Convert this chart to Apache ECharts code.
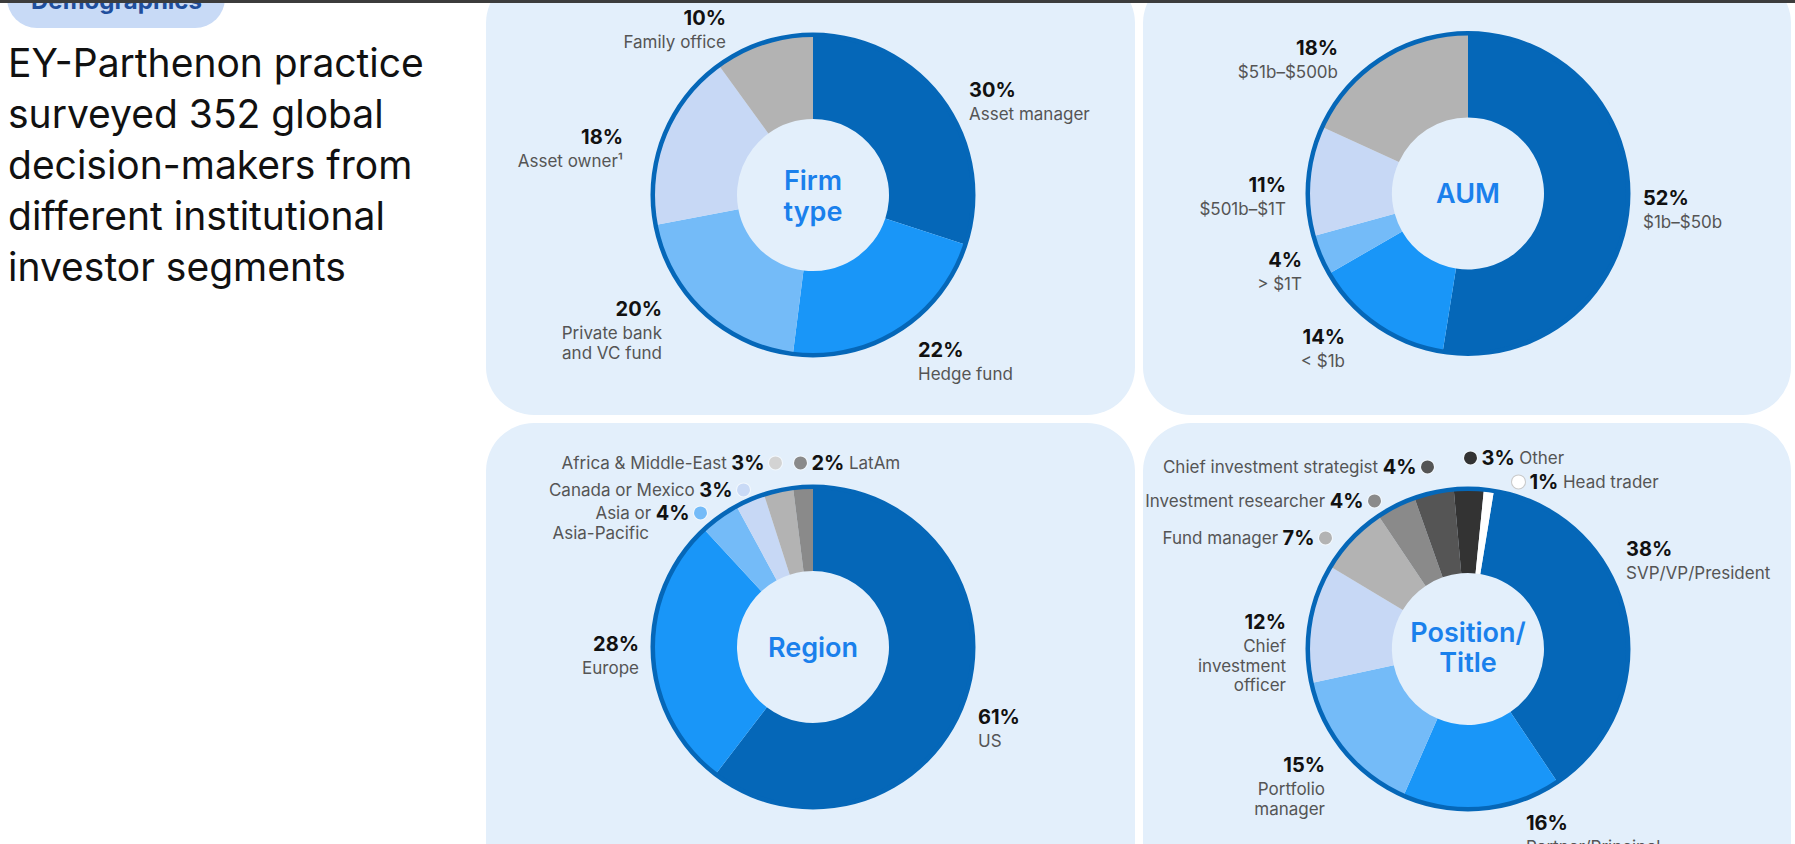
<!DOCTYPE html>
<html><head><meta charset="utf-8">
<script src="https://cdn.jsdelivr.net/npm/echarts@6/dist/echarts.min.js"></script>
<style>html,body{margin:0;padding:0;background:#fff;overflow:hidden;}#c{width:1795px;height:844px;}</style>
</head><body><div id="c"></div>
<script>
// ---------- DATA ----------
const firmCategories = ['Asset manager', 'Hedge fund', 'Private bank\nand VC fund', 'Asset owner¹', 'Family office'];
const firmValues = [30, 22, 20, 18, 10];

const aumCategories = ['$1b–$50b', '< $1b', '> $1T', '$501b–$1T', '$51b–$500b'];
const aumValues = [52, 14, 4, 11, 18];

const regionCategories = ['US', 'Europe', 'Asia or\nAsia-Pacific', 'Canada or Mexico', 'Africa & Middle-East', 'LatAm'];
const regionValues = [61, 28, 4, 3, 3, 2];

const positionCategories = ['SVP/VP/President', 'Partner/Principal', 'Portfolio\nmanager', 'Chief\ninvestment\nofficer',
  'Fund manager', 'Investment researcher', 'Chief investment strategist', 'Other', 'Head trader'];
const positionValues = [38, 16, 15, 12, 7, 4, 4, 3, 1];

const centerTitles = ['Firm\ntype', 'AUM', 'Region', 'Position/\nTitle'];
const headlineLines = ['EY-Parthenon practice', 'surveyed 352 global', 'decision-makers from', 'different institutional', 'investor segments'];
const tagText = 'Demographics';

// ---------- STYLE ----------
const DARK = '#0567b8', MID = '#1996f8', LIGHT = '#74bbf8', PALE = '#c7d8f5',
      G1 = '#b3b3b3', G2 = '#8a8a8a', G3 = '#555555', G4 = '#333333', WHITE = '#ffffff';
const FONT = 'Inter, "Noto Sans", sans-serif';
const PANEL = '#e3effb';
const PCT_SIZE = 20, NAME_SIZE = 17;

const firmColors = [DARK, MID, LIGHT, PALE, G1];
const aumColors = [DARK, MID, LIGHT, PALE, G1];
const regionColors = [DARK, MID, LIGHT, PALE, G1, G2];
const regionDots = [DARK, MID, LIGHT, '#c9daf6', '#d3d3d3', G2];
const positionColors = [DARK, MID, LIGHT, PALE, G1, G2, G3, G4, WHITE];
const positionDots = positionColors;

// label anchors: [x, baseline of first line, align, kind]
const firmAnchors = [[969, 97, 'left', 'block'], [918, 357, 'left', 'block'], [662, 316, 'right', 'block'],
  [623, 144, 'right', 'block'], [726, 25, 'right', 'block']];
const aumAnchors = [[1643, 205, 'left', 'block'], [1345, 344, 'right', 'block'], [1302, 267, 'right', 'block'],
  [1286, 192, 'right', 'block'], [1338, 55, 'right', 'block']];
const regionAnchors = [[978, 724, 'left', 'block'], [639, 651, 'right', 'block'], [707, 519, 'right', 'inline'],
  [750, 496, 'right', 'inline'], [782, 469, 'right', 'inline'], [794, 469, 'left', 'inline']];
const positionAnchors = [[1626, 556, 'left', 'block'], [1526, 830, 'left', 'block'], [1325, 772, 'right', 'block'],
  [1286, 629, 'right', 'block'], [1332, 544, 'right', 'inline'], [1381, 507, 'right', 'inline'],
  [1434, 473, 'right', 'inline'], [1464, 464, 'left', 'inline'], [1512, 488, 'left', 'inline']];

function makeRich(dots) {
  const rich = {
    p: { fontFamily: FONT, fontSize: PCT_SIZE, fontWeight: 700, color: '#111', lineHeight: 30 },
    q: { fontFamily: FONT, fontSize: PCT_SIZE, fontWeight: 700, color: '#111', lineHeight: 20 },
    n: { fontFamily: FONT, fontSize: NAME_SIZE, fontWeight: 400, color: '#555', lineHeight: 19.5 },
    sp: { width: 58, height: 10 }
  };
  (dots || []).forEach((c, i) => {
    rich['d' + i] = { width: 13, height: 13, borderRadius: 7, backgroundColor: c,
      borderColor: c === WHITE ? '#c9c9c9' : 'rgba(255,255,255,0.55)', borderWidth: 1 };
  });
  return rich;
}

function donut(names, values, colors, dots, anchors, center, startAngle) {
  const data = names.map((n, i) => ({ name: n, value: values[i], itemStyle: { color: colors[i] } }));
  return [{
    type: 'pie', center: center, radius: [76, 159], startAngle: startAngle, clockwise: true,
    avoidLabelOverlap: false, animation: false, silent: true, z: 2,
    itemStyle: { borderWidth: 0 },
    emphasis: { disabled: true },
    labelLine: { show: false },
    label: {
      show: true, position: 'outside', fontFamily: FONT, fontSize: 16, color: '#555',
      rich: makeRich(dots),
      formatter: (p) => {
        const a = anchors[p.dataIndex];
        const lines = p.name.split('\n');
        if (a[3] === 'block') {
          return '{p|' + p.value + '%}\n' + lines.map(s => '{n|' + s + '}').join('\n');
        }
        if (a[2] === 'right') {
          let s = '{n|' + lines[0] + '} {q|' + p.value + '%} {d' + p.dataIndex + '|}';
          for (let k = 1; k < lines.length; k++) s += '\n{n|' + lines[k] + '}{sp|}';
          return s;
        }
        return '{d' + p.dataIndex + '|} {q|' + p.value + '%} {n|' + lines[0] + '}';
      }
    },
    labelLayout: (p) => {
      const a = anchors[p.dataIndex];
      const off = a[3] === 'block' ? 22.3 : 16.1;
      return { x: a[0], y: a[1] - off, align: a[2], verticalAlign: 'top', hideOverlap: false, moveOverlap: null };
    },
    data: data
  }, {
    type: 'pie', center: center, radius: [158, 162.5], silent: true, animation: false, z: 3,
    label: { show: false }, labelLine: { show: false }, emphasis: { disabled: true },
    itemStyle: { color: DARK, borderWidth: 0 },
    data: [{ name: 'ring', value: values.reduce((s, v) => s + v, 0) }]
  }];
}

const centers = [[813, 195], [1468, 193.5], [813, 647], [1468, 649]];
const centerTextY = [196, 193.5, 647.2, 647.7];

const graphics = [
  // panels
  { type: 'rect', z: 0, shape: { x: 486, y: -25, width: 649, height: 440, r: 48 }, style: { fill: PANEL } },
  { type: 'rect', z: 0, shape: { x: 1143, y: -25, width: 648, height: 440, r: 48 }, style: { fill: PANEL } },
  { type: 'rect', z: 0, shape: { x: 486, y: 423, width: 649, height: 500, r: 48 }, style: { fill: PANEL } },
  { type: 'rect', z: 0, shape: { x: 1143, y: 423, width: 648, height: 500, r: 48 }, style: { fill: PANEL } },
  // tag
  { type: 'rect', z: 0, shape: { x: 7, y: -32, width: 218, height: 60, r: 30 }, style: { fill: '#c8daf6' } },
  { type: 'text', z: 5, style: { text: tagText, x: 31, y: 9 - 0.363 * 24, align: 'left', verticalAlign: 'middle',
      fontFamily: FONT, fontSize: 24, fontWeight: 700, fill: '#1f4e9c' } },
  // top bar
  { type: 'rect', z: 50, shape: { x: 0, y: 0, width: 1795, height: 3 }, style: { fill: '#3c3c3c' } },
  // headline
  { type: 'text', z: 5, style: { text: headlineLines.join('\n'), x: 8, y: 77 - 25.5 - 0.363 * 39, align: 'left',
      verticalAlign: 'top', lineHeight: 51, fontFamily: FONT, fontSize: 39, fontWeight: 400, fill: '#111' } }
];
centerTitles.forEach((t, i) => {
  graphics.push({ type: 'text', z: 20, style: { text: t, x: centers[i][0], y: centerTextY[i], align: 'center',
    verticalAlign: 'middle', lineHeight: 30.5, fontFamily: FONT, fontSize: 27, fontWeight: 600, fill: '#1a80ec' } });
});

const chart = echarts.init(document.getElementById('c'), null, { renderer: 'svg', width: 1795, height: 844 });
chart.setOption({
  animation: false,
  backgroundColor: '#ffffff',
  graphic: { elements: graphics },
  series: [
    ...donut(firmCategories, firmValues, firmColors, null, firmAnchors, centers[0], 90),
    ...donut(aumCategories, aumValues, aumColors, null, aumAnchors, centers[1], 90),
    ...donut(regionCategories, regionValues, regionColors, regionDots, regionAnchors, centers[2], 90),
    ...donut(positionCategories, positionValues, positionColors, positionDots, positionAnchors, centers[3], 80.7)
  ]
});
</script></body></html>
